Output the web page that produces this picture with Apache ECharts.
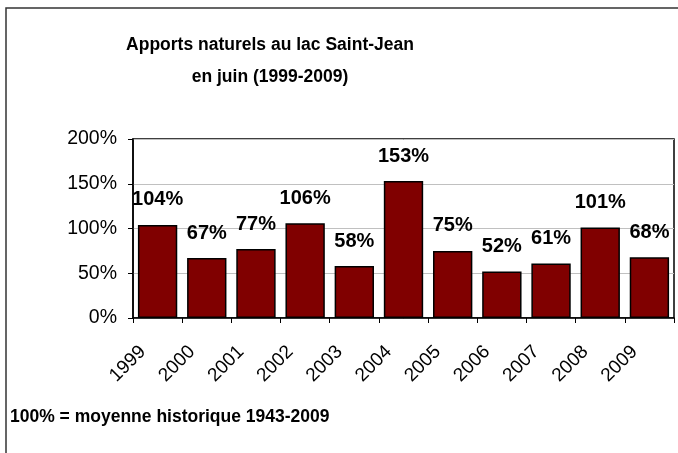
<!DOCTYPE html>
<html>
<head>
<meta charset="utf-8">
<script src="https://cdn.jsdelivr.net/npm/echarts@6/dist/echarts.min.js"></script>
<style>
  html, body { margin: 0; padding: 0; background: #fff; }
  #chart { width: 678px; height: 453px; }
</style>
</head>
<body>
<div id="chart"></div>
<script>
// années et apports (% de la moyenne historique)
const years = ['1999', '2000', '2001', '2002', '2003', '2004', '2005', '2006', '2007', '2008', '2009'];
const apports = [104, 67, 77, 106, 58, 153, 75, 52, 61, 101, 68];
const yTicks = [0, 50, 100, 150, 200];

const font = 'Liberation Sans, Arial, sans-serif';
const chart = echarts.init(document.getElementById('chart'));

chart.setOption({
  animation: false,
  textStyle: { fontFamily: font },
  title: {
    text: 'Apports naturels au lac Saint-Jean\nen juin (1999-2009)',
    left: 265,
    top: 24,
    textAlign: 'center',
    textStyle: { fontSize: 17.5, fontWeight: 'bold', color: '#000', lineHeight: 32, fontFamily: font }
  },
  grid: { left: 133, right: 4, top: 139, bottom: 135, show: true, borderColor: '#000', borderWidth: 1.5 },
  xAxis: {
    type: 'category',
    data: years,
    axisLine: { lineStyle: { color: '#000', width: 1.5 } },
    axisTick: { show: true, length: 5, lineStyle: { color: '#000' } },
    axisLabel: { rotate: 45, fontSize: 19, color: '#000', margin: 16, padding: [0, 21, 0, 0], fontFamily: font }
  },
  yAxis: {
    type: 'value',
    min: yTicks[0],
    max: yTicks[yTicks.length - 1],
    interval: 50,
    axisLine: { show: true, lineStyle: { color: '#000', width: 1.5 } },
    axisTick: { show: true, length: 5, lineStyle: { color: '#000' } },
    splitLine: { lineStyle: { color: '#c0c0c0' } },
    axisLabel: { fontSize: 19.5, color: '#000', margin: 16, formatter: '{value}%', fontFamily: font }
  },
  series: [{
    type: 'bar',
    data: apports,
    barCategoryGap: '20%',
    itemStyle: { color: '#800000', borderColor: '#000', borderWidth: 1.5 },
    label: {
      show: true,
      position: 'top',
      distance: 15,
      formatter: '{c}%',
      fontSize: 20,
      fontWeight: 'bold',
      color: '#000',
      fontFamily: font
    }
  }],
  graphic: [
    {
      type: 'rect',
      shape: { x: 6, y: 8, width: 700, height: 470 },
      style: { fill: 'none', stroke: '#333', lineWidth: 1.5 }
    },
    {
      type: 'text',
      left: 10,
      top: 408,
      style: { text: '100% = moyenne historique 1943-2009', font: 'bold 17.5px ' + font, fill: '#000' }
    }
  ]
});
</script>
</body>
</html>
